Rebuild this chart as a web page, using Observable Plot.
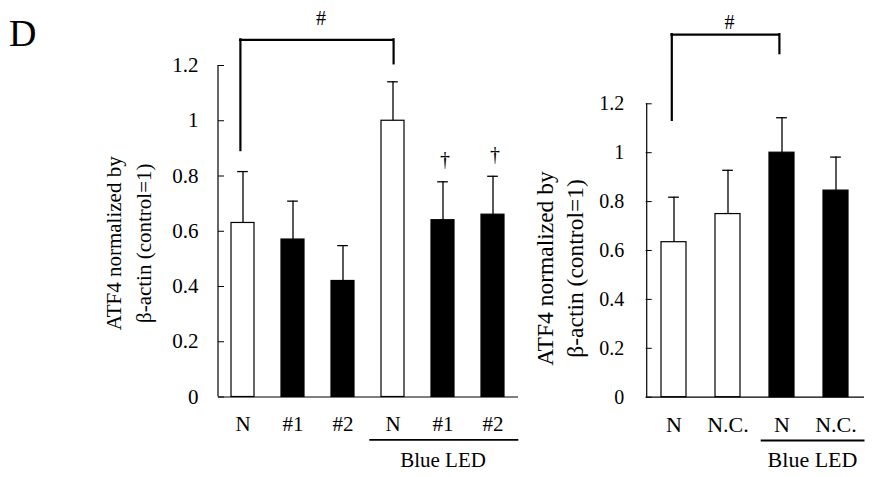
<!DOCTYPE html>
<html><head><meta charset="utf-8">
<script src="https://cdn.jsdelivr.net/npm/d3@7"></script>
<script src="https://cdn.jsdelivr.net/npm/@observablehq/plot@0.6"></script>
<style>
html,body{margin:0;padding:0;background:#fff;}
#wrap{position:relative;width:873px;height:477px;overflow:hidden;font-family:"Liberation Serif",serif;color:#000;background:#fff;}
#panel{position:absolute;left:9px;top:14px;font-size:38px;line-height:1;z-index:2;}
#left{position:absolute;left:0;top:0;z-index:1;}
#right{position:absolute;left:520px;top:0;z-index:1;}
svg{overflow:visible;}
</style></head><body>
<div id="wrap"><div id="left"></div><div id="right"></div><div id="panel">D</div></div>
<script>
// ---- data ----
const yTicks = [0, 0.2, 0.4, 0.6, 0.8, 1, 1.2];
const yTickLabels = ["0", "0.2", "0.4", "0.6", "0.8", "1", "1.2"];
const yLabel = "ATF4 normalized by\nβ-actin (control=1)";
const groupLabel = "Blue LED";
const sigBracket = "#";

const leftCats = ["N", "#1", "#2", "N", "#1", "#2"];
const leftMeans = [0.63, 0.57, 0.42, 1.00, 0.64, 0.66];
const leftErrs = [0.186, 0.139, 0.128, 0.141, 0.139, 0.139];
const leftFills = ["white", "black", "black", "white", "black", "black"];
const leftSig = ["", "", "", "", "†", "†"];

const rightCats = ["N", "N.C.", "N", "N.C."];
const rightMeans = [0.634, 0.749, 1.00, 0.845];
const rightErrs = [0.184, 0.179, 0.143, 0.137];
const rightFills = ["white", "white", "black", "black"];
const rightSig = ["", "", "", ""];

function panel(cfg) {
  const {cats, means, errs, fills, sig, width, height, mL, mR, mT, mB, pad,
         tickFs, xFs, labFs, labDx, labDy, labLH, xPad, yPad,
         br, ul, grp, hash} = cfg;
  const keys = cats.map((c, i) => i + "|" + c);
  const data = keys.map((k, i) => ({key: k, mean: means[i], err: errs[i], top: means[i] + errs[i], fill: fills[i], sig: sig[i]}));
  const innerW = width - mL - mR;
  const step = innerW / keys.length;
  const bw = step * (1 - pad);
  const cap = 11;
  const capInset = (bw - cap) / 2;
  const fmtY = d => yTickLabels[yTicks.findIndex(t => Math.abs(t - d) < 1e-9)];
  return Plot.plot({
    width, height,
    marginLeft: mL, marginRight: mR, marginTop: mT, marginBottom: mB,
    style: {fontFamily: "Liberation Serif", fontSize: tickFs + "px", color: "black", background: "transparent", overflow: "visible"},
    x: {type: "band", domain: keys, paddingInner: pad, paddingOuter: pad / 2, axis: null},
    y: {domain: [0, 1.2], axis: null},
    color: {type: "identity"},
    marks: [
      Plot.barY(data, {x: "key", y: "mean", fill: "fill", stroke: "black", strokeWidth: 1.2}),
      Plot.ruleX(data, {x: "key", y1: "mean", y2: "top", stroke: "black", strokeWidth: 1.3}),
      Plot.tickY(data, {x: "key", y: "top", insetLeft: capInset, insetRight: capInset, stroke: "black", strokeWidth: 1.3}),
      Plot.text(data.filter(d => d.sig), {x: "key", y: "top", text: "sig", dy: -22, dx: 2, fontSize: 20, fill: "black"}),
      Plot.ruleY([0], {stroke: "black", strokeWidth: 1.2}),
      Plot.ruleX([keys[0]], {y1: 0, y2: 1.2, dx: -step / 2, stroke: "black", strokeWidth: 1.2}),
      Plot.ruleY(yTicks, {insetRight: innerW - 6, stroke: "black", strokeWidth: 1}),
      Plot.axisY(yTicks, {tickSize: 0, tickPadding: yPad, tickFormat: fmtY, fontSize: tickFs, label: null}),
      Plot.axisX(keys, {tickSize: 0, tickPadding: xPad, tickFormat: k => k.split("|")[1], fontSize: xFs, label: null}),
      Plot.text([yLabel], {frameAnchor: "left", textAnchor: "middle", lineAnchor: "middle", rotate: -90, dx: labDx, dy: labDy, lineHeight: labLH, fontSize: labFs, text: d => d}),
      // significance bracket
      Plot.ruleY([br.y], {x1: () => keys[br.a], x2: () => keys[br.b], insetLeft: bw / 2 + br.dxA, insetRight: bw / 2 - br.dxB, stroke: "black", strokeWidth: 2.2, strokeLinecap: "square"}),
      Plot.ruleX([keys[br.a]], {y1: br.yA, y2: br.y, dx: br.dxA, stroke: "black", strokeWidth: 2.2, strokeLinecap: "square"}),
      Plot.ruleX([keys[br.b]], {y1: br.yB, y2: br.y, dx: br.dxB, stroke: "black", strokeWidth: 2.2, strokeLinecap: "square"}),
      Plot.text([sigBracket], {x: () => keys[hash.k], y: () => hash.y, dx: hash.dx, fontSize: 20, text: d => d}),
      // group underline and label
      Plot.ruleY([ul.y], {x1: () => keys[ul.a], x2: () => keys[ul.b], insetLeft: -ul.extL, insetRight: -ul.extR, stroke: "black", strokeWidth: 1.8}),
      Plot.text([groupLabel], {x: () => keys[grp.k], y: () => grp.y, dx: grp.dx, fontSize: xFs, text: d => d})
    ]
  });
}

document.getElementById("left").appendChild(panel({
  cats: leftCats, means: leftMeans, errs: leftErrs, fills: leftFills, sig: leftSig,
  width: 520, height: 477, mL: 218, mR: 2, mT: 65, mB: 80.5, pad: 0.533,
  tickFs: 21, xFs: 21, labFs: 21, labDx: -92, labDy: 12, labLH: 1.43, xPad: 19, yPad: 20,
  br: {a: 0, b: 3, y: 1.293, yA: 0.892, yB: 1.206, dxA: -2.6, dxB: 0.6},
  hash: {k: 2, y: 1.368, dx: -22},
  ul: {a: 3, b: 5, y: -0.155, extL: 11.7, extR: 14.3},
  grp: {k: 4, y: -0.228, dx: 0}
}));

document.getElementById("right").appendChild(panel({
  cats: rightCats, means: rightMeans, errs: rightErrs, fills: rightFills, sig: rightSig,
  width: 353, height: 477, mL: 125.7, mR: 9, mT: 103.3, mB: 80.3, pad: 0.537,
  tickFs: 20, xFs: 22, labFs: 23.5, labDx: -87.5, labDy: 18, labLH: 1.28, xPad: 19, yPad: 22,
  br: {a: 0, b: 2, y: 1.483, yA: 1.132, yB: 1.405, dxA: -2.2, dxB: -2.6},
  hash: {k: 1, y: 1.534, dx: 1.5},
  ul: {a: 2, b: 3, y: -0.177, extL: 8.3, extR: 16.5},
  grp: {k: 2, y: -0.257, dx: 30.5}
}));
</script>
</body></html>
